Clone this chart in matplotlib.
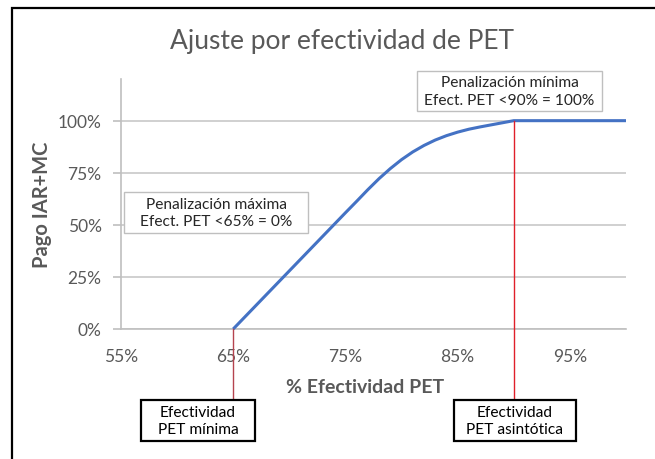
import matplotlib
matplotlib.use("Agg")
import matplotlib.pyplot as plt
from matplotlib.patches import Rectangle
from matplotlib.ticker import FuncFormatter

plt.rcParams["font.family"] = ["Lato", "DejaVu Sans"]

# Curve: % efectividad PET vs pago IAR+MC (%)
efectividad = [65, 70, 75, 76, 77, 78, 79, 80, 81, 82, 83, 84, 85, 86, 87, 88, 89, 90, 95, 100]
pago = [0, 27.9, 55.8, 61.3, 66.9, 72.2, 77.0, 81.3, 85.0, 88.1, 90.7, 92.8, 94.5, 95.9, 97.0, 98.0, 99.0, 100, 100, 100]

x_ticks = [55, 65, 75, 85, 95]
y_ticks = [0, 25, 50, 75, 100]

title = "Ajuste por efectividad de PET"
x_label = "% Efectividad PET"
y_label = "Pago IAR+MC"
nota_max = "Penalización máxima\nEfect. PET <65% = 0%"
nota_min = "Penalización mínima\nEfect. PET <90% = 100%"
caja_min = "Efectividad\nPET mínima"
caja_asin = "Efectividad\nPET asintótica"
linea_min = 65
linea_asin = 90

W, H = 655, 460
GRAY = "#595959"

fig = plt.figure(figsize=(W / 100, H / 100), dpi=100)


def fx(px):
    return px / W


def fy(py):
    return 1 - py / H


ax = fig.add_axes([fx(121), fy(330), fx(626) - fx(121), fy(80) - fy(330)])
ax.set_xlim(55, 100)
ax.set_ylim(0, 120)
ax.set_xticks(x_ticks)
ax.set_yticks(y_ticks)
ax.xaxis.set_major_formatter(FuncFormatter(lambda v, p: f"{v:.0f}%"))
ax.yaxis.set_major_formatter(FuncFormatter(lambda v, p: f"{v:.0f}%"))
ax.tick_params(axis="x", length=0, pad=14, labelsize=12.5, labelcolor=GRAY)
ax.tick_params(axis="y", length=6, width=1.2, color="#BFBFBF", pad=8, labelsize=12.5, labelcolor=GRAY)
for s in ["top", "right"]:
    ax.spines[s].set_visible(False)
for s in ["left", "bottom"]:
    ax.spines[s].set_color("#BFBFBF")
    ax.spines[s].set_linewidth(1.2)
ax.grid(axis="y", color="#C8C8C8", linewidth=1.2)
ax.set_axisbelow(True)

ax.plot(efectividad, pago, color="#4472C4", linewidth=2.2, solid_capstyle="butt",
        solid_joinstyle="round", zorder=3, clip_on=False)

# red guide lines down to the label boxes
ax.plot([linea_min, linea_min], [0, -34.8], color="#B5434F", linewidth=1, clip_on=False, zorder=4)
ax.plot([linea_asin, linea_asin], [100, -34.8], color="#E0202A", linewidth=1, clip_on=False, zorder=4)

fig.text(fx(342), fy(41), title, ha="center", va="center", fontsize=19, color=GRAY)
fig.text(fx(365), fy(388), x_label, ha="center", va="center", fontsize=14, fontweight="bold", color=GRAY)
fig.text(fx(42), fy(205), y_label, ha="center", va="center", rotation=90, fontsize=14.5,
         fontweight="bold", color=GRAY)


def caja(x0, y0, x1, y1, texto, borde, lw, color_txt):
    r = Rectangle((fx(x0), fy(y1)), fx(x1) - fx(x0), fy(y0) - fy(y1), transform=fig.transFigure,
                  facecolor="white", edgecolor=borde, linewidth=lw, zorder=5)
    fig.patches.append(r)
    fig.text(fx((x0 + x1) / 2), fy((y0 + y1) / 2), texto, ha="center", va="center",
             fontsize=11.2, color=color_txt, linespacing=1.3, zorder=6)


caja(124, 193, 308, 234, nota_max, "#BFBFBF", 1, "#262626")
caja(417, 72, 602, 112, nota_min, "#BFBFBF", 1, "#262626")
caja(141, 401, 255, 442, caja_min, "black", 1.6, "black")
caja(454, 401, 576, 442, caja_asin, "black", 1.6, "black")

# outer chart frame (cut by the picture edge on the right and bottom)
fig.patches.append(Rectangle((fx(12), -0.1), 1.2, fy(9) + 0.1, transform=fig.transFigure,
                             fill=False, edgecolor="black", linewidth=1.6))

fig.savefig("out.png", dpi=100)
